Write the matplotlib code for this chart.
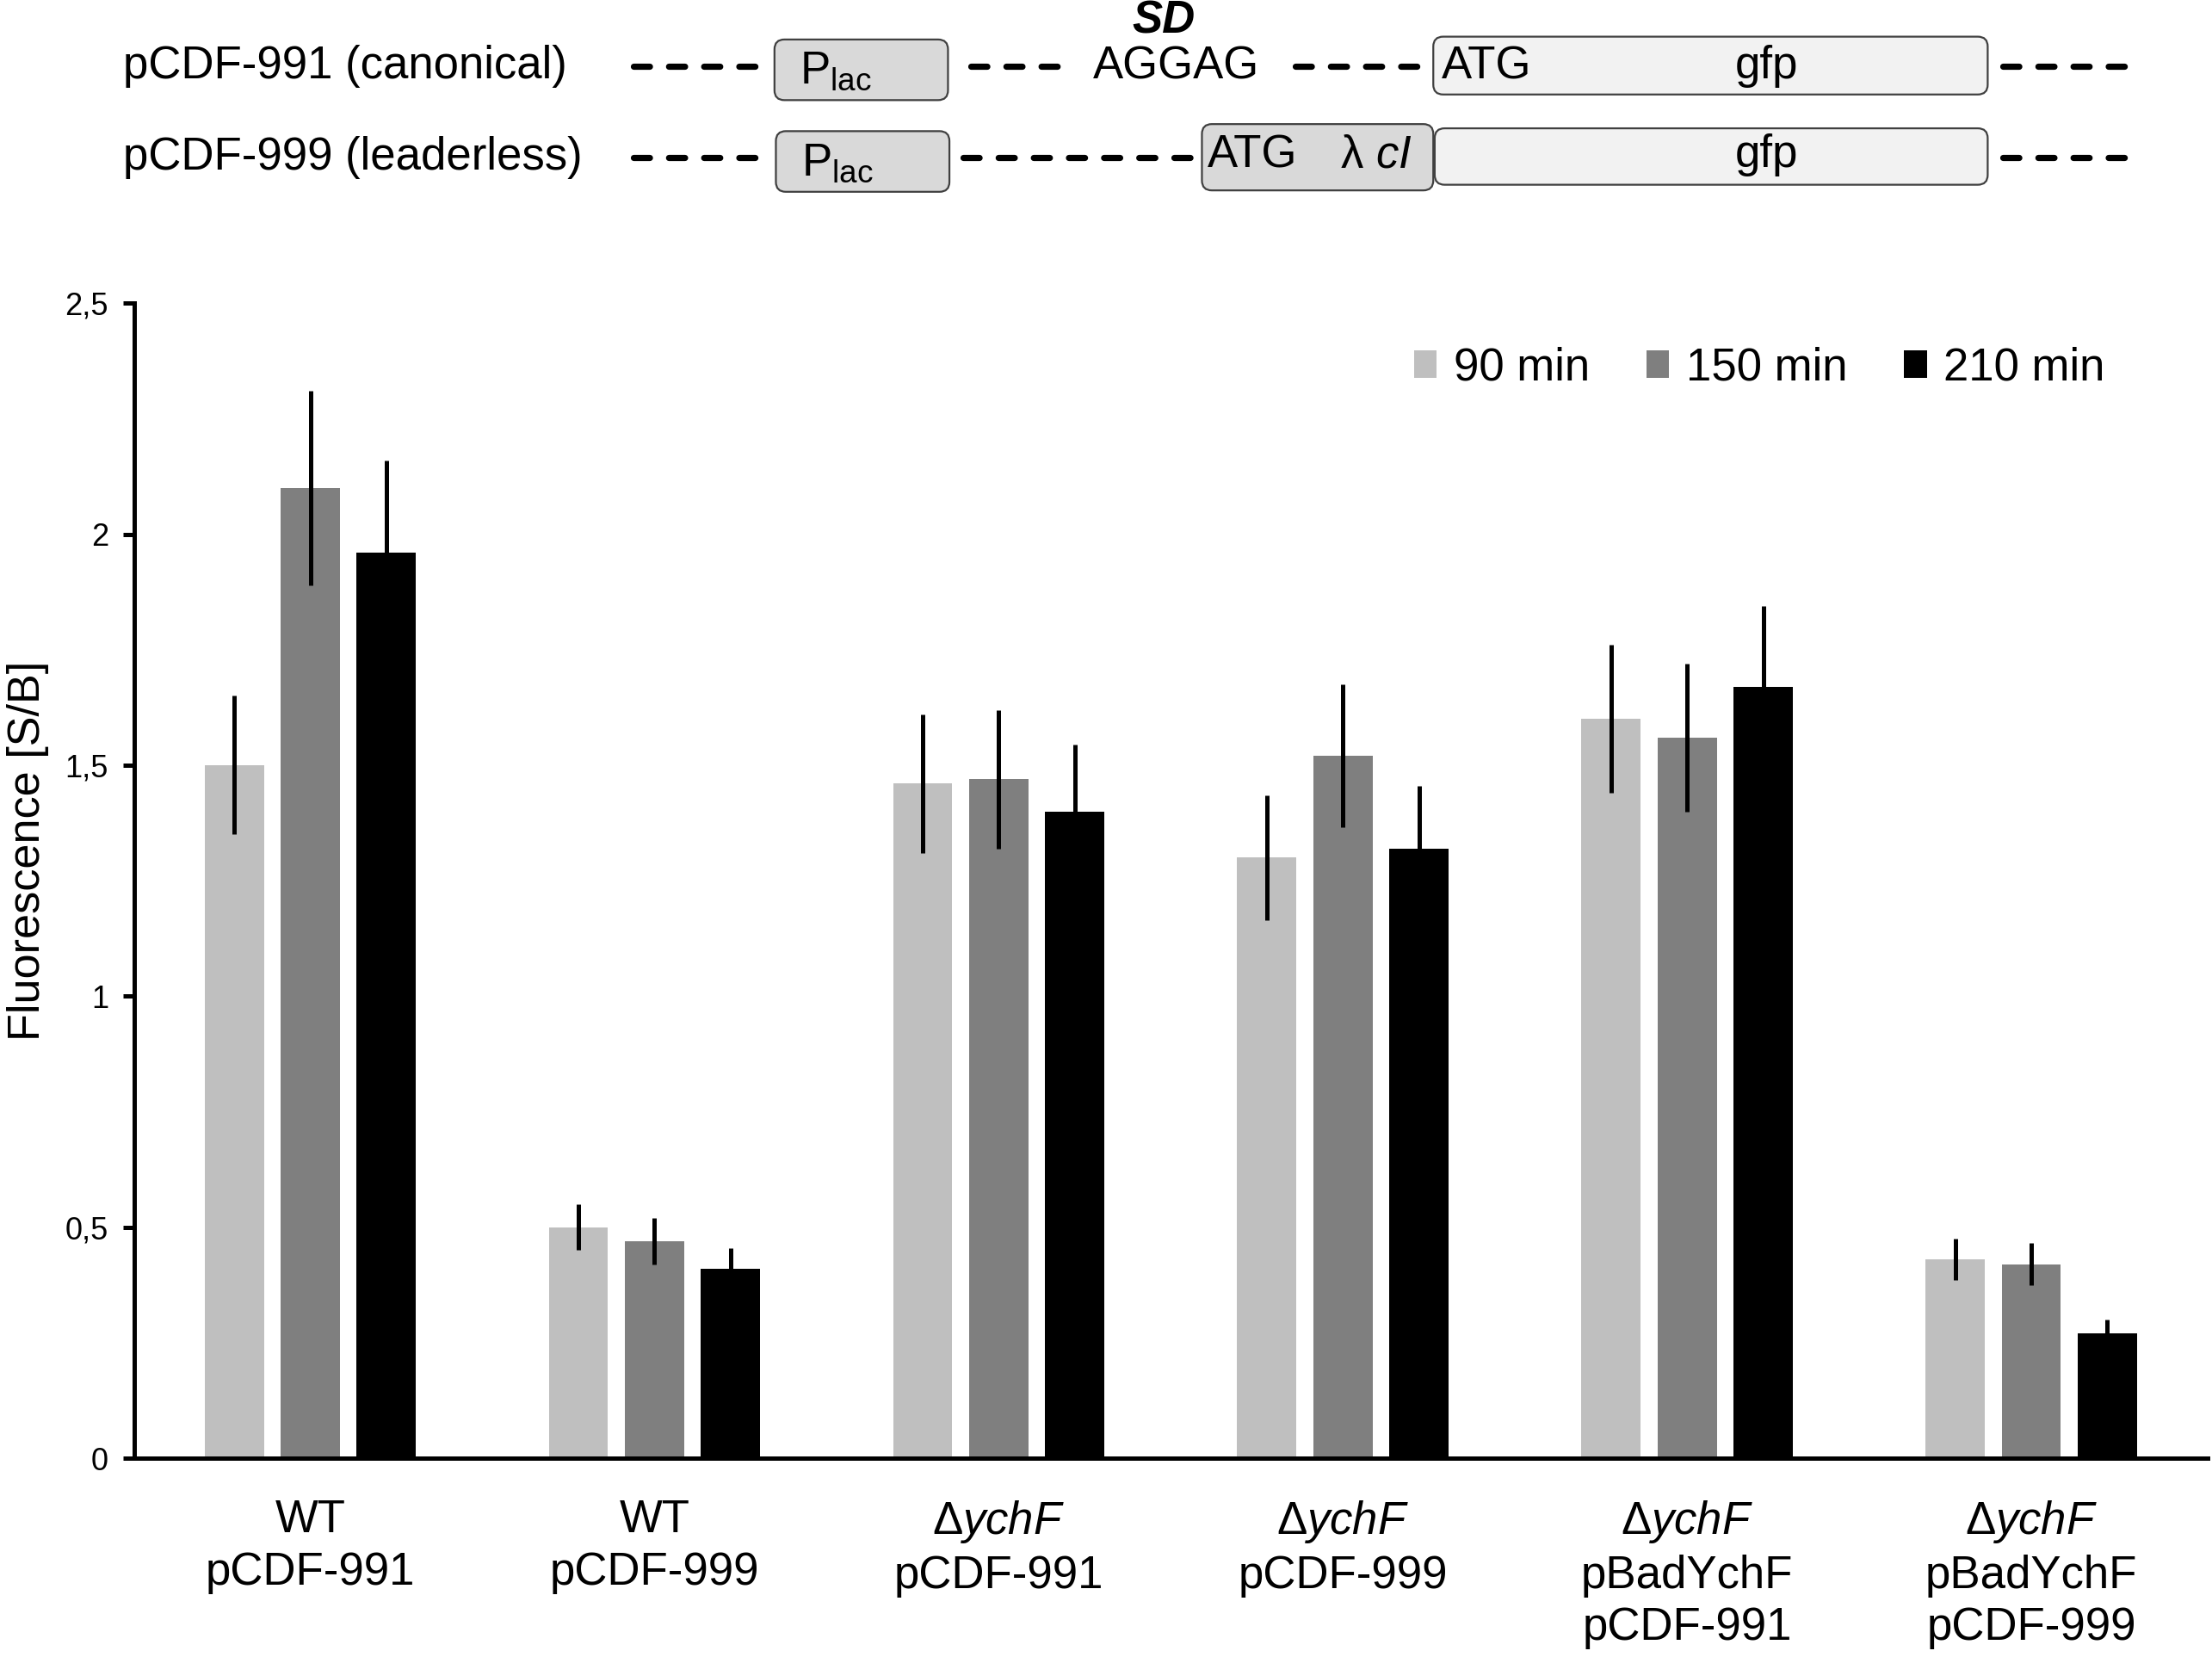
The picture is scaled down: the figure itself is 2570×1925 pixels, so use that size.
import matplotlib
matplotlib.use('Agg')
import matplotlib.pyplot as plt
from matplotlib.patches import FancyBboxPatch

plt.rcParams['font.family'] = ['Liberation Sans', 'DejaVu Sans']
plt.rcParams['mathtext.fontset'] = 'custom'
plt.rcParams['mathtext.rm'] = 'Liberation Sans'
plt.rcParams['mathtext.it'] = 'Liberation Sans:italic'
plt.rcParams['mathtext.bf'] = 'Liberation Sans:bold'
plt.rcParams['lines.scale_dashes'] = False

# data
strains = ['WT\npCDF-991', 'WT\npCDF-999',
           '$\\mathit{Δ ychF}$\npCDF-991', '$\\mathit{Δ ychF}$\npCDF-999',
           '$\\mathit{Δ ychF}$\npBadYchF\npCDF-991', '$\\mathit{Δ ychF}$\npBadYchF\npCDF-999']
series = ['90 min', '150 min', '210 min']
means_90 = [1.50, 0.50, 1.46, 1.30, 1.60, 0.43]
means_150 = [2.10, 0.47, 1.47, 1.52, 1.56, 0.42]
means_210 = [1.96, 0.41, 1.40, 1.32, 1.67, 0.27]
err_90 = [0.15, 0.05, 0.15, 0.135, 0.16, 0.045]
err_150 = [0.21, 0.05, 0.15, 0.155, 0.16, 0.045]
err_210 = [0.20, 0.045, 0.145, 0.135, 0.175, 0.03]
yticks = [0, 0.5, 1, 1.5, 2, 2.5]
ytick_labels = ['0', '0,5', '1', '1,5', '2', '2,5']
colors = ['#bfbfbf', '#7f7f7f', '#000000']

fig = plt.figure(figsize=(12.85, 9.625), dpi=200)

# bar chart
ax = fig.add_axes([0.0606, 0.12, 0.9374, 0.697])
x = list(range(len(strains)))
offsets = [-0.221, 0.0, 0.221]
width = 0.172
for means, errs, off, col, lab in zip([means_90, means_150, means_210],
                                      [err_90, err_150, err_210],
                                      offsets, colors, series):
    ax.bar([xi + off for xi in x], means, width, color=col, label=lab, zorder=2)
    ax.errorbar([xi + off for xi in x], means, yerr=errs, fmt='none',
                ecolor='black', elinewidth=1.8, capsize=0, zorder=3)

ax.set_xlim(-0.512, 5.512)
ax.set_ylim(0, 2.5)
ax.set_yticks(yticks)
ax.set_yticklabels(ytick_labels, fontsize=13)
ax.set_xticks(x)
ax.set_xticklabels(strains, fontsize=19, linespacing=1.27)
ax.tick_params(axis='x', length=0, pad=17)
ax.tick_params(axis='y', length=4.7, width=1.8, pad=6)
for s in ['top', 'right']:
    ax.spines[s].set_visible(False)
for s in ['left', 'bottom']:
    ax.spines[s].set_linewidth(1.8)
ax.set_ylabel('Fluorescence [S/B]', fontsize=18.8)
ax.yaxis.set_label_coords(-0.041, 0.526)

ax.legend(loc='center right', bbox_to_anchor=(1492 / 1568, 1 - 261 / 1175),
          bbox_transform=fig.transFigure, ncol=3, frameon=False, fontsize=19,
          handlelength=0.5, handleheight=0.55, handletextpad=0.37,
          columnspacing=1.25, borderpad=0, borderaxespad=0)

# construct diagram on top
dax = fig.add_axes([0, 1 - 150 / 1175, 1, 150 / 1175])
dax.set_xlim(0, 1568)
dax.set_ylim(150, 0)
dax.axis('off')

boxes = [  # x0, x1, ytop, ybottom, fill
    (549, 672, 28, 71, '#d9d9d9'),
    (1016, 1409, 26, 67, '#f2f2f2'),
    (550, 673, 93, 136, '#d9d9d9'),
    (852, 1016, 88, 135, '#d9d9d9'),
    (1017, 1409, 91, 131, '#f2f2f2'),
]
for x0, x1, y0, y1, fc in boxes:
    dax.add_patch(FancyBboxPatch((x0, y0), x1 - x0, y1 - y0,
                                 boxstyle='round,pad=0,rounding_size=7',
                                 fc=fc, ec='#404040', lw=0.8))

dashes = [  # x0, x1, y
    (449, 538, 47), (688, 758, 47), (918, 1006, 47), (1420, 1508, 47),
    (449, 538, 112), (683, 846, 112), (1420, 1508, 112),
]
for x0, x1, y in dashes:
    dax.plot([x0, x1], [y, y], color='black', lw=2.6,
             linestyle=(0, (6.7, 8.0)), dash_capstyle='round')

fs = 19
dax.text(87, 47, 'pCDF-991 (canonical)', fontsize=fs, va='center', ha='left')
dax.text(87, 112, 'pCDF-999 (leaderless)', fontsize=fs, va='center', ha='left')
dax.text(567, 59, '$\\mathrm{P}_{\\mathrm{lac}}$', fontsize=fs, va='baseline', ha='left')
dax.text(568, 124, '$\\mathrm{P}_{\\mathrm{lac}}$', fontsize=fs, va='baseline', ha='left')
dax.text(825, 15, 'SD', fontsize=fs, fontweight='bold', style='italic', va='center', ha='center')
dax.text(834, 47, 'AGGAG', fontsize=fs, va='center', ha='center')
dax.text(1022, 47, 'ATG', fontsize=fs, va='center', ha='left')
dax.text(1252, 47, 'gfp', fontsize=fs, va='center', ha='center')
dax.text(856, 110, 'ATG', fontsize=fs, va='center', ha='left')
dax.text(950, 110, 'λ $\\mathit{cI}$', fontsize=fs, va='center', ha='left')
dax.text(1252, 110, 'gfp', fontsize=fs, va='center', ha='center')

fig.savefig('out.png', dpi=200)
